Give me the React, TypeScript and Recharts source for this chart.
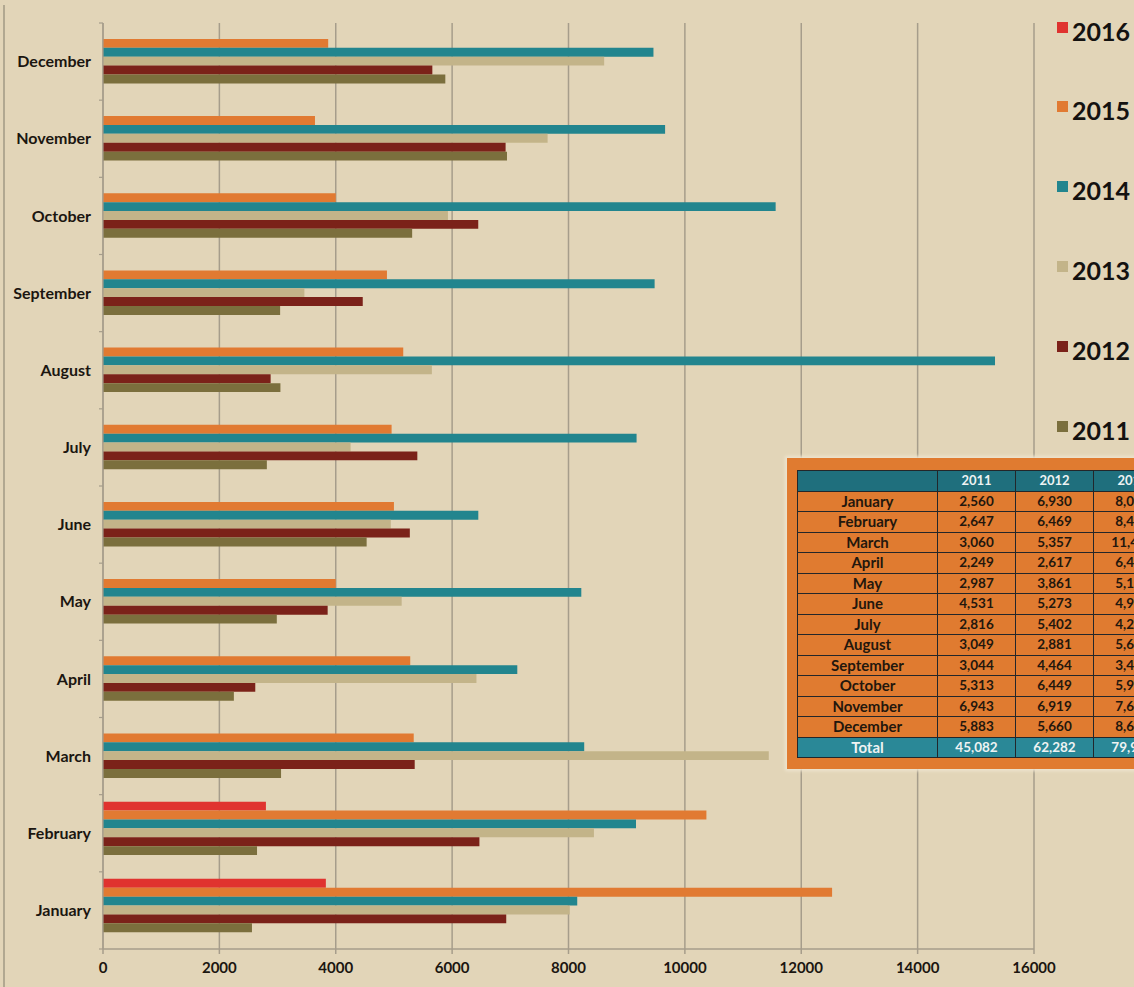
import React from 'react';
import { BarChart, Bar, XAxis, YAxis, CartesianGrid } from 'recharts';

const months = ['January', 'February', 'March', 'April', 'May', 'June', 'July', 'August', 'September', 'October', 'November', 'December'];
const seriesYears = ['2016', '2015', '2014', '2013', '2012', '2011'];
const s2016: (number | null)[] = [3830, 2800, null, null, null, null, null, null, null, null, null, null];
const s2015 = [12530, 10370, 5340, 5280, 4000, 5000, 4960, 5160, 4880, 4000, 3643, 3870];
const s2014 = [8150, 9160, 8270, 7120, 8220, 6450, 9170, 15330, 9480, 11560, 9660, 9460];
const s2013 = [8021, 8437, 11442, 6418, 5133, 4946, 4255, 5652, 3461, 5928, 7641, 8613];
const s2012 = [6930, 6469, 5357, 2617, 3861, 5273, 5402, 2881, 4464, 6449, 6919, 5660];
const s2011 = [2560, 2647, 3060, 2249, 2987, 4531, 2816, 3049, 3044, 5313, 6943, 5883];
const xTicks = [0, 2000, 4000, 6000, 8000, 10000, 12000, 14000, 16000];
const tableYears = ['2011', '2012', '2013'];

const seriesByYear: Record<string, (number | null)[]> = {
  '2016': s2016, '2015': s2015, '2014': s2014, '2013': s2013, '2012': s2012, '2011': s2011,
};
const colors: Record<string, string> = {
  '2016': '#e0332f',
  '2015': '#e17a32',
  '2014': '#22858e',
  '2013': '#c3b489',
  '2012': '#7b2219',
  '2011': '#7b6f3d',
};

const BG = '#e2d5b8';
const GRID = '#a69d8b';
const FONT = 'Lato, "Open Sans", sans-serif';

const W = 1134;
const H = 987;
const PLOT_TOP = 23;
const PLOT_LEFT = 103;
const PLOT_RIGHT_MARGIN = 100;
const XAXIS_H = 38;
const PLOT_BOTTOM = H - XAXIS_H;
const BAND_HALF = (PLOT_BOTTOM - PLOT_TOP) / months.length / 2;
const BAR_SIZE = 8.9;

// December at top, January at bottom
const data = months
  .map((m, i) => {
    const row: Record<string, string | number | null> = { month: m };
    seriesYears.forEach((y) => {
      row[y] = seriesByYear[y][i];
    });
    return row;
  })
  .reverse();

const YTick = (props: any) => {
  const { x, y, payload, index } = props;
  const ax = x + 12;
  return (
    <g>
      <line x1={ax - 4} x2={ax} y1={y - BAND_HALF} y2={y - BAND_HALF} stroke={GRID} strokeWidth={1.2} />
      {index === months.length - 1 && (
        <line x1={ax - 4} x2={ax} y1={y + BAND_HALF} y2={y + BAND_HALF} stroke={GRID} strokeWidth={1.2} />
      )}
      <text x={x} y={y} dy="0.35em" textAnchor="end" fill="#1b1610" fontFamily={FONT} fontWeight={700} fontSize={16}>
        {payload.value}
      </text>
    </g>
  );
};

const legendTops = [22, 101, 181, 261, 341, 421];

const fmt = (v: number) => v.toLocaleString('en-US');
const tableSeries: Record<string, number[]> = { '2011': s2011, '2012': s2012, '2013': s2013 };

const cellBorder = '1.5px solid #23262a';

export default function App() {
  return (
    <div style={{ position: 'absolute', left: 0, top: 0, width: W, height: H, overflow: 'hidden', background: BG }}>
      <div style={{ position: 'absolute', left: 3, top: 5, width: 1.5, height: H - 5, background: '#b1a891' }} />
      <BarChart
        width={W}
        height={H}
        data={data}
        layout="vertical"
        margin={{ top: PLOT_TOP, right: PLOT_RIGHT_MARGIN, bottom: 0, left: 0 }}
        barGap={0}
      >
        <CartesianGrid horizontal={false} vertical stroke={GRID} strokeWidth={1.5} />
        <XAxis
          type="number"
          domain={[0, 16000]}
          ticks={xTicks}
          interval={0}
          height={XAXIS_H}
          axisLine={{ stroke: GRID, strokeWidth: 1.5 }}
          tickLine={{ stroke: GRID, strokeWidth: 1.5 }}
          tickSize={5}
          tickMargin={8}
          tick={{ fill: '#1b1610', fontFamily: FONT, fontWeight: 700, fontSize: 15 }}
        />
        <YAxis
          type="category"
          dataKey="month"
          width={PLOT_LEFT}
          interval={0}
          axisLine={{ stroke: GRID, strokeWidth: 1.2 }}
          tickLine={false}
          tickSize={0}
          tickMargin={12}
          tick={<YTick />}
        />
        {seriesYears.map((y) => (
          <Bar key={y} dataKey={y} fill={colors[y]} barSize={BAR_SIZE} isAnimationActive={false} />
        ))}
        <Bar dataKey="pad" fill="none" barSize={BAR_SIZE} legendType="none" isAnimationActive={false} />
      </BarChart>

      {/* Legend */}
      {seriesYears.map((y, i) => (
        <div key={y} style={{ position: 'absolute', left: 1057, top: legendTops[i] }}>
          <div style={{ position: 'absolute', left: 0, top: 0, width: 11, height: 11, background: colors[y] }} />
          <div
            style={{
              position: 'absolute',
              left: 15,
              top: -3,
              fontFamily: FONT,
              fontWeight: 700,
              fontSize: 25,
              lineHeight: '25px',
              color: '#141210',
              whiteSpace: 'nowrap',
            }}
          >
            {y}
          </div>
        </div>
      ))}

      {/* Data table overlay */}
      <div
        style={{
          position: 'absolute',
          left: 787,
          top: 458,
          width: 420,
          height: 311,
          background: '#e07b30',
          boxShadow: '0 0 3px 2px #eee4cf',
        }}
      >
        <table
          style={{
            position: 'absolute',
            left: 10,
            top: 12,
            borderCollapse: 'collapse',
            tableLayout: 'fixed',
            fontFamily: FONT,
            fontWeight: 700,
          }}
        >
          <colgroup>
            <col style={{ width: 140 }} />
            {tableYears.map((y) => (
              <col key={y} style={{ width: 78 }} />
            ))}
          </colgroup>
          <tbody>
            <tr style={{ height: 20.5, background: '#1f6f7d' }}>
              <td style={{ border: cellBorder, padding: 0 }} />
              {tableYears.map((y) => (
                <td key={y} style={{ border: cellBorder, padding: 0, textAlign: 'center', color: '#eef3f3', fontSize: 13, lineHeight: '17px' }}>
                  {y}
                </td>
              ))}
            </tr>
            {months.map((m, i) => (
              <tr key={m} style={{ height: 20.5 }}>
                <td style={{ border: cellBorder, padding: 0, textAlign: 'center', color: '#23170d', fontSize: 15, lineHeight: '17px' }}>{m}</td>
                {tableYears.map((y) => (
                  <td key={y} style={{ border: cellBorder, padding: 0, textAlign: 'center', color: '#23170d', fontSize: 13.5, lineHeight: '17px' }}>
                    {fmt(tableSeries[y][i])}
                  </td>
                ))}
              </tr>
            ))}
            <tr style={{ height: 20.5, background: '#2a8897' }}>
              <td style={{ border: cellBorder, padding: 0, textAlign: 'center', color: '#eef3f3', fontSize: 15, lineHeight: '17px' }}>Total</td>
              {tableYears.map((y) => (
                <td key={y} style={{ border: cellBorder, padding: 0, textAlign: 'center', color: '#eef3f3', fontSize: 13.5, lineHeight: '17px' }}>
                  {fmt(tableSeries[y].reduce((a, b) => a + b, 0))}
                </td>
              ))}
            </tr>
          </tbody>
        </table>
      </div>
    </div>
  );
}
